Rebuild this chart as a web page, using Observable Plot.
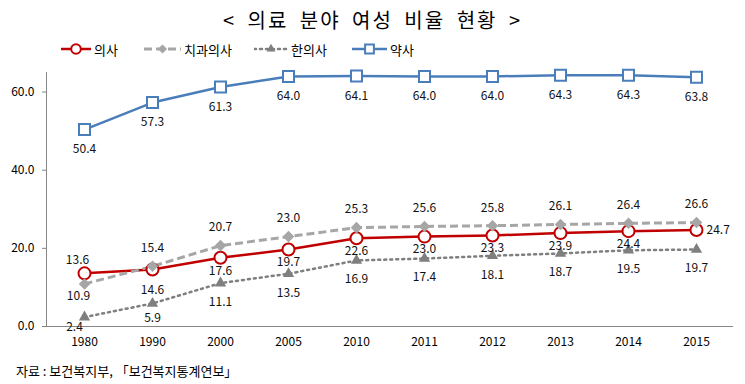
<!DOCTYPE html>
<html><head><meta charset="utf-8">
<script src="https://cdn.jsdelivr.net/npm/d3@7"></script>
<script src="https://cdn.jsdelivr.net/npm/@observablehq/plot@0.6"></script>
<style>
body{margin:0;background:#fff;font-family:"Noto Sans CJK KR","Noto Sans",sans-serif;color:#000;}
#wrap{position:relative;width:745px;height:384px;overflow:hidden;}
#title{position:absolute;left:0;top:6px;width:745px;text-align:center;font-size:20px;letter-spacing:2px;word-spacing:5px;line-height:28px;}
#legend{position:absolute;left:0;top:38px;height:22px;width:745px;}
.li{position:absolute;top:0;height:22px;display:flex;align-items:center;font-size:13px;}
.li svg{margin-right:3px;}
#unit{position:absolute;left:22px;top:56px;font-size:11px;}
#chart{position:absolute;left:0;top:60px;}
#caption{position:absolute;left:16px;top:361px;font-size:13px;line-height:20px;}
</style></head><body>
<div id="wrap">
<div id="title">&lt; 의료 분야 여성 비율 현황 &gt;</div>
<div id="legend"></div>
<div id="unit">(%)</div>
<div id="chart"></div>
<div id="caption">자료 : 보건복지부, 「보건복지통계연보」</div>
</div>
<script>
const years = ["1980","1990","2000","2005","2010","2011","2012","2013","2014","2015"];
const seriesNames = ["의사","치과의사","한의사","약사"];
const doctor     = [13.6,14.6,17.6,19.7,22.6,23.0,23.3,23.9,24.4,24.7];
const dentist    = [10.9,15.4,20.7,23.0,25.3,25.6,25.8,26.1,26.4,26.6];
const oriental   = [2.4,5.9,11.1,13.5,16.9,17.4,18.1,18.7,19.5,19.7];
const pharmacist = [50.4,57.3,61.3,64.0,64.1,64.0,64.0,64.3,64.3,63.8];
const yTicks = [0,20,40,60];

const valuesBySeries = [doctor, dentist, oriental, pharmacist];
const styles = [
  {color:"#C00000", width:2.5, dash:null, symbol:"circle", r:6, fill:"white", sw:2},
  {color:"#A6A6A6", width:3, dash:"8,4", symbol:"diamond2", r:5.2, fill:"#A6A6A6", sw:0},
  {color:"#7F7F7F", width:2.5, dash:"2,4", symbol:"triangle2", r:5.4, fill:"#7F7F7F", sw:0},
  {color:"#4A7EBB", width:2.5, dash:null, symbol:"square", r:6.2, fill:"white", sw:2}
];

function place(s, i){
  if (s===0){ if(i===0) return {dx:-7,dy:-13,a:"middle"}; if(i===9) return {dx:10,dy:0,a:"start"}; if(i===1) return {dx:0,dy:21,a:"middle"}; return {dx:0,dy:13,a:"middle"}; }
  if (s===1){ if(i===0) return {dx:-6,dy:12,a:"middle"}; return {dx:0,dy:-18,a:"middle"}; }
  if (s===2){ if(i===0) return {dx:-10,dy:10,a:"middle"}; if(i===1) return {dx:0,dy:15,a:"middle"}; return {dx:0,dy:19,a:"middle"}; }
  return {dx:0,dy:20,a:"middle"};
}

const rows = [];
valuesBySeries.forEach((vals, s) => vals.forEach((v, i) => {
  const p = place(s, i);
  rows.push({series: seriesNames[s], s, year: years[i], value: v, key: p.dx+"|"+p.dy+"|"+p.a, p});
}));

const marks = [];
marks.push(Plot.ruleY([0], {stroke:"#868686", strokeWidth:1}));
marks.push((index, scales, values, dims) => {
  const line = document.createElementNS("http://www.w3.org/2000/svg","line");
  line.setAttribute("x1", dims.marginLeft + 0.5); line.setAttribute("x2", dims.marginLeft + 0.5);
  line.setAttribute("y1", dims.marginTop); line.setAttribute("y2", dims.height - dims.marginBottom);
  line.setAttribute("stroke", "#868686");
  return line;
});
styles.forEach((st, s) => {
  const data = rows.filter(d => d.s === s);
  marks.push(Plot.line(data, {x:"year", y:"value", stroke:st.color, strokeWidth:st.width, strokeDasharray:st.dash, strokeLinecap: st.dash==="2,4" ? "round" : "butt"}));
});
styles.forEach((st, s) => {
  const data = rows.filter(d => d.s === s);
  marks.push(Plot.dot(data, {x:"year", y:"value", symbol:st.symbol, r:st.r, fill:st.fill, stroke: st.sw ? st.color : "none", strokeWidth:st.sw, fillOpacity:1}));
});
const groups = d3.group(rows, d => d.key);
for (const [key, data] of groups) {
  const p = data[0].p;
  marks.push(Plot.text(data, {x:"year", y:"value", text: d => d.value.toFixed(1), dx:p.dx, dy:p.dy, textAnchor:p.a, fontSize:12, fill:"#111"}));
}
marks.push(Plot.axisX({tickSize:0, tickPadding:11, fontSize:12, color:"#000"}));
marks.push(Plot.axisY({ticks:yTicks, tickSize:4, tickPadding:8, tickFormat: d3.format(".1f"), fontSize:12, stroke:"#868686", label:null}));

const chart = Plot.plot({
  width:745, height:296,
  marginLeft:46, marginRight:12, marginTop:12, marginBottom:30,
  style:{fontFamily:'"Noto Sans CJK KR","Noto Sans",sans-serif', fontSize:"12px", color:"#000", background:"white"},
  x:{type:"point", domain:years, padding:0.5, label:null},
  y:{domain:[0,65], label:null},
  marks
});
chart.querySelectorAll('[aria-label="y-axis tick label"] text, [aria-label="x-axis tick label"] text').forEach(t => t.setAttribute("fill","#000"));
document.getElementById("chart").appendChild(chart);

// legend
const legendPos = [{x:61, w:30}, {x:144, w:37}, {x:254, w:34}, {x:352, w:35}];
const legend = document.getElementById("legend");
styles.forEach((st, s) => {
  const item = document.createElement("div");
  item.className = "li";
  item.style.left = legendPos[s].x + "px";
  const w = legendPos[s].w;
  const svg = d3.create("svg").attr("width", w).attr("height", 14);
  svg.append("line").attr("x1",0).attr("x2",w).attr("y1",7).attr("y2",7)
    .attr("stroke",st.color).attr("stroke-width",st.width).attr("stroke-dasharray",st.dash)
    .attr("stroke-linecap", st.dash==="2,4" ? "round" : "butt");
  const symMap = {circle:d3.symbolCircle, diamond2:d3.symbolDiamond2, triangle2:d3.symbolTriangle2, square:d3.symbolSquare};
  const size = Math.PI * (st.r*0.8) * (st.r*0.8);
  svg.append("path").attr("d", d3.symbol(symMap[st.symbol], size)()).attr("transform",`translate(${w/2},7)`)
    .attr("fill", st.fill).attr("stroke", st.sw ? st.color : "none").attr("stroke-width", st.sw);
  item.appendChild(svg.node());
  const span = document.createElement("span");
  span.textContent = seriesNames[s];
  item.appendChild(span);
  legend.appendChild(item);
});
</script>
</body></html>
